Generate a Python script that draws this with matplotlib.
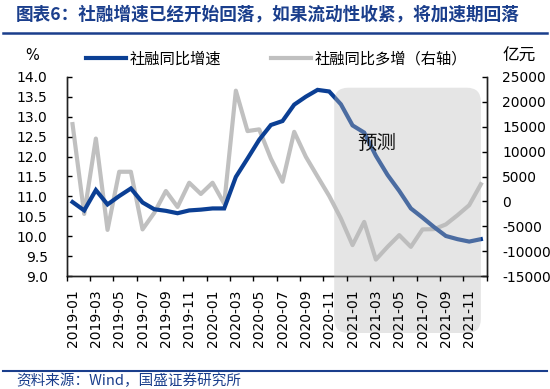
import matplotlib
matplotlib.use('Agg')
import matplotlib.pyplot as plt
from matplotlib.patches import FancyBboxPatch
from matplotlib.lines import Line2D
import numpy as np

plt.rcParams['font.family'] = ['DejaVu Sans', 'Noto Sans CJK SC']
plt.rcParams['axes.unicode_minus'] = False
cjk = ['Noto Sans CJK SC', 'DejaVu Sans']

# data
months = ['%d-%02d' % (y, m) for y in (2019, 2020, 2021) for m in range(1, 13)]
growth = [10.86, 10.65, 11.16, 10.80, 11.01, 11.20, 10.85, 10.68, 10.64, 10.58,
          10.65, 10.67, 10.70, 10.70, 11.49, 11.95, 12.42, 12.79, 12.89, 13.30,
          13.50, 13.67, 13.63, 13.31, 12.78, 12.60, 12.02, 11.54, 11.14, 10.70,
          10.47, 10.23, 10.01, 9.93, 9.87, 9.93]
extra = [15500, -2500, 12600, -5700, 5950, 5950, -5600, -2300, 2100, -1100,
         3750, 1500, 3750, -450, 22200, 14100, 14450, 8600, 3950, 13950,
         8950, 5000, 1100, -3400, -8750, -4100, -11650, -9100, -6750, -9100,
         -5600, -5550, -4600, -2750, -750, 3450]
forecast_from, forecast_to = 22.43, 35.0

blue = '#0b3f94'
gray = '#c0c0c0'
navy = '#1a3e8c'

fig = plt.figure(figsize=(5.5, 3.89), dpi=100)
ax = fig.add_axes([66.7 / 550, 1 - 276.3 / 389, 420 / 550, 199.6 / 389])
ax2 = ax.twinx()
ax.set_zorder(1)
ax.patch.set_visible(False)

x = np.arange(len(months))
ax.plot(x, growth, color=blue, lw=3, solid_joinstyle='miter', label='社融同比增速')
ax2.plot(x, extra, color=gray, lw=3, label='社融同比多增（右轴）')

ax.set_xlim(-0.5, len(months) - 0.5)
ax.set_ylim(9, 14)
ax.set_yticks(np.arange(9, 14.01, 0.5))
ax.set_yticklabels(['%.1f' % v for v in np.arange(9, 14.01, 0.5)])
ax2.set_ylim(-15000, 25000)
ax2.set_yticks(np.arange(-15000, 25001, 5000))

ax.set_xticks(x[::2])
ax.set_xticklabels(months[::2], rotation=90)
ax.set_xticks(np.arange(-0.5, len(months), 2), minor=True)
ax.tick_params(axis='x', which='major', length=0, pad=9.4, labelsize=10)
ax.tick_params(axis='x', which='minor', direction='out', length=3.6, width=1)
ax.tick_params(axis='y', direction='in', length=3.6, width=1, pad=13.7, labelsize=10)
ax2.tick_params(axis='y', direction='in', length=3.6, width=1, pad=11, labelsize=10)
for lab in ax2.get_yticklabels():
    lab.set_horizontalalignment('left')

for a in (ax, ax2):
    a.spines['top'].set_visible(False)
    for s in ('left', 'right', 'bottom'):
        a.spines[s].set_linewidth(1)
        a.spines[s].set_color('#222222')

# forecast box (overlay)
fig.canvas.draw()
px0 = ax.transData.transform((forecast_from, 0))[0] / fig.dpi
px1 = ax.transData.transform((forecast_to, 0))[0] / fig.dpi
y0, y1 = (389 - 333) / 100, (389 - 87.7) / 100
box = FancyBboxPatch((px0, y0), px1 - px0, y1 - y0,
                     boxstyle='round,pad=0,rounding_size=0.14',
                     transform=fig.dpi_scale_trans, fc=(0.73, 0.73, 0.73),
                     alpha=0.37, ec='none', zorder=5, clip_on=False)
ax.add_patch(box)
ax.xaxis.set_zorder(6)
ax.text(377 / 550, 1 - 143 / 389, '预测', transform=fig.transFigure, ha='center',
        va='center', fontsize=14, family=cjk, color='#111111', zorder=7)

fig.legend(handles=[ax.get_lines()[0], ax2.get_lines()[0]], loc='center left',
           bbox_to_anchor=(86 / 550, 1 - 59 / 389), ncol=2, frameon=False,
           borderpad=0, borderaxespad=0, handlelength=2.6, handletextpad=0.25,
           columnspacing=3.3, prop={'family': cjk, 'size': 11})

fig.text(32 / 550, 1 - 56 / 389, '%', ha='center', va='center', fontsize=10.5)
fig.text(519 / 550, 1 - 56 / 389, '亿元', ha='center', va='center', fontsize=12,
         family=cjk)

fig.text(16 / 550, 1 - 14 / 389, '图表6：社融增速已经开始回落，如果流动性收紧，将加速期回落',
         ha='left', va='center', fontsize=12.7, weight='bold', style='italic',
         color=navy, family=cjk)
fig.add_artist(Line2D([3 / 550, 547 / 550], [1 - 33 / 389] * 2, color=navy, lw=1.8))
fig.add_artist(Line2D([3 / 550, 547 / 550], [1 - 370.5 / 389] * 2, color=navy, lw=1.5))
fig.text(16 / 550, 1 - 381 / 389, '资料来源：Wind，国盛证券研究所', ha='left',
         va='center', fontsize=10.5, style='italic', color=navy, family=cjk)

fig.savefig('out.png', dpi=100)
